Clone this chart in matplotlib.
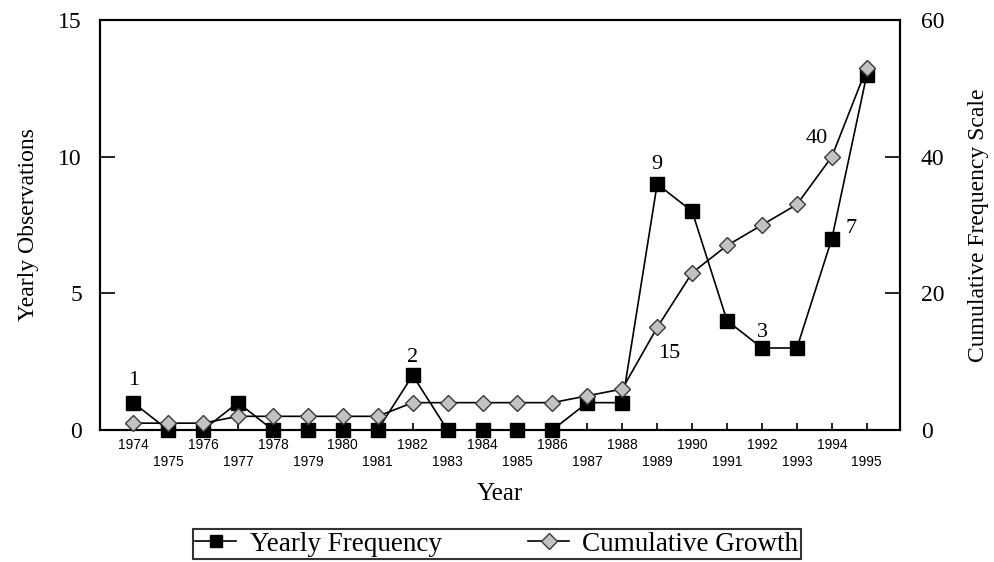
import matplotlib
matplotlib.use("Agg")
import matplotlib.pyplot as plt

# data
years = list(range(1974, 1996))
yearly = [1, 0, 0, 1, 0, 0, 0, 0, 2, 0, 0, 0, 0, 1, 1, 9, 8, 4, 3, 3, 7, 13]
cumulative = [1, 1, 1, 2, 2, 2, 2, 2, 4, 4, 4, 4, 4, 5, 6, 15, 23, 27, 30, 33, 40, 53]

serif = ["Liberation Serif", "DejaVu Serif"]
sans = ["Liberation Sans", "DejaVu Sans"]

fig = plt.figure(figsize=(9.94, 5.62), dpi=100)
ax = fig.add_axes([0.1006, 0.2349, 0.8048, 0.7295])
ax2 = ax.twinx()

l1, = ax.plot(years, yearly, color="black", lw=1.2, marker="s", ms=10,
              mfc="black", mec="black", clip_on=False, zorder=3)
l2, = ax2.plot(years, cumulative, color="black", lw=1.2, marker="D", ms=8.5,
               mfc="#c2c2c2", mec="#3a3a3a", mew=1.0, clip_on=False, zorder=4)

ax.set_xlim(1973.05, 1995.95)
ax.set_ylim(0, 15)
ax2.set_ylim(0, 60)
ax.set_yticks([0, 5, 10, 15])
ax2.set_yticks([0, 20, 40, 60])
ax.set_xticks(years)
ax.set_xticklabels([])

for a in (ax, ax2):
    for s in a.spines.values():
        s.set_linewidth(1.5)

ax.tick_params(axis="y", direction="in", length=11, width=1.2, pad=13, labelsize=17)
ax2.tick_params(axis="y", direction="in", length=11, width=1.2, pad=15, labelsize=17)
ax.tick_params(axis="x", direction="in", length=5, width=1.2)
for lab in ax.get_yticklabels() + ax2.get_yticklabels():
    lab.set_family(serif)

# staggered year labels
for i, y in enumerate(years):
    off = -11 if i % 2 == 0 else -23
    ax.annotate(str(y), xy=(y, 0), xycoords=("data", "axes fraction"),
                xytext=(0, off), textcoords="offset points", ha="center",
                va="center", fontsize=10, family=sans)

ax.set_ylabel("Yearly Observations", family=serif, fontsize=17, labelpad=14)
ax2.set_ylabel("Cumulative Frequency Scale", family=serif, fontsize=17, labelpad=17)
ax.set_xlabel("Year", family=serif, fontsize=18, labelpad=35)

# value labels
notes = [
    (ax, 1974, 1, "1", (0, 16)),
    (ax, 1982, 2, "2", (0, 13)),
    (ax, 1989, 9, "9", (0, 14)),
    (ax, 1992, 3, "3", (0, 11)),
    (ax, 1994, 7, "7", (14, 7)),
    (ax2, 1989, 15, "15", (9, -19)),
    (ax2, 1994, 40, "40", (-11, 13)),
]
for a, x, y, t, off in notes:
    a.annotate(t, xy=(x, y), xytext=off, textcoords="offset points",
               ha="center", va="center", fontsize=16, family=serif)

leg = fig.legend([l1, l2], ["Yearly Frequency", "Cumulative Growth"],
                 loc="lower center", bbox_to_anchor=(0.5, 0.0), ncol=2,
                 prop={"family": serif, "size": 19.5}, frameon=True, fancybox=False,
                 edgecolor="black", handlelength=1.5, columnspacing=3.2,
                 borderpad=0.1, handletextpad=0.5, markerscale=0.9,
                 borderaxespad=0.1)
leg.get_frame().set_linewidth(1.5)

fig.savefig("out.png", dpi=100, facecolor="white")
